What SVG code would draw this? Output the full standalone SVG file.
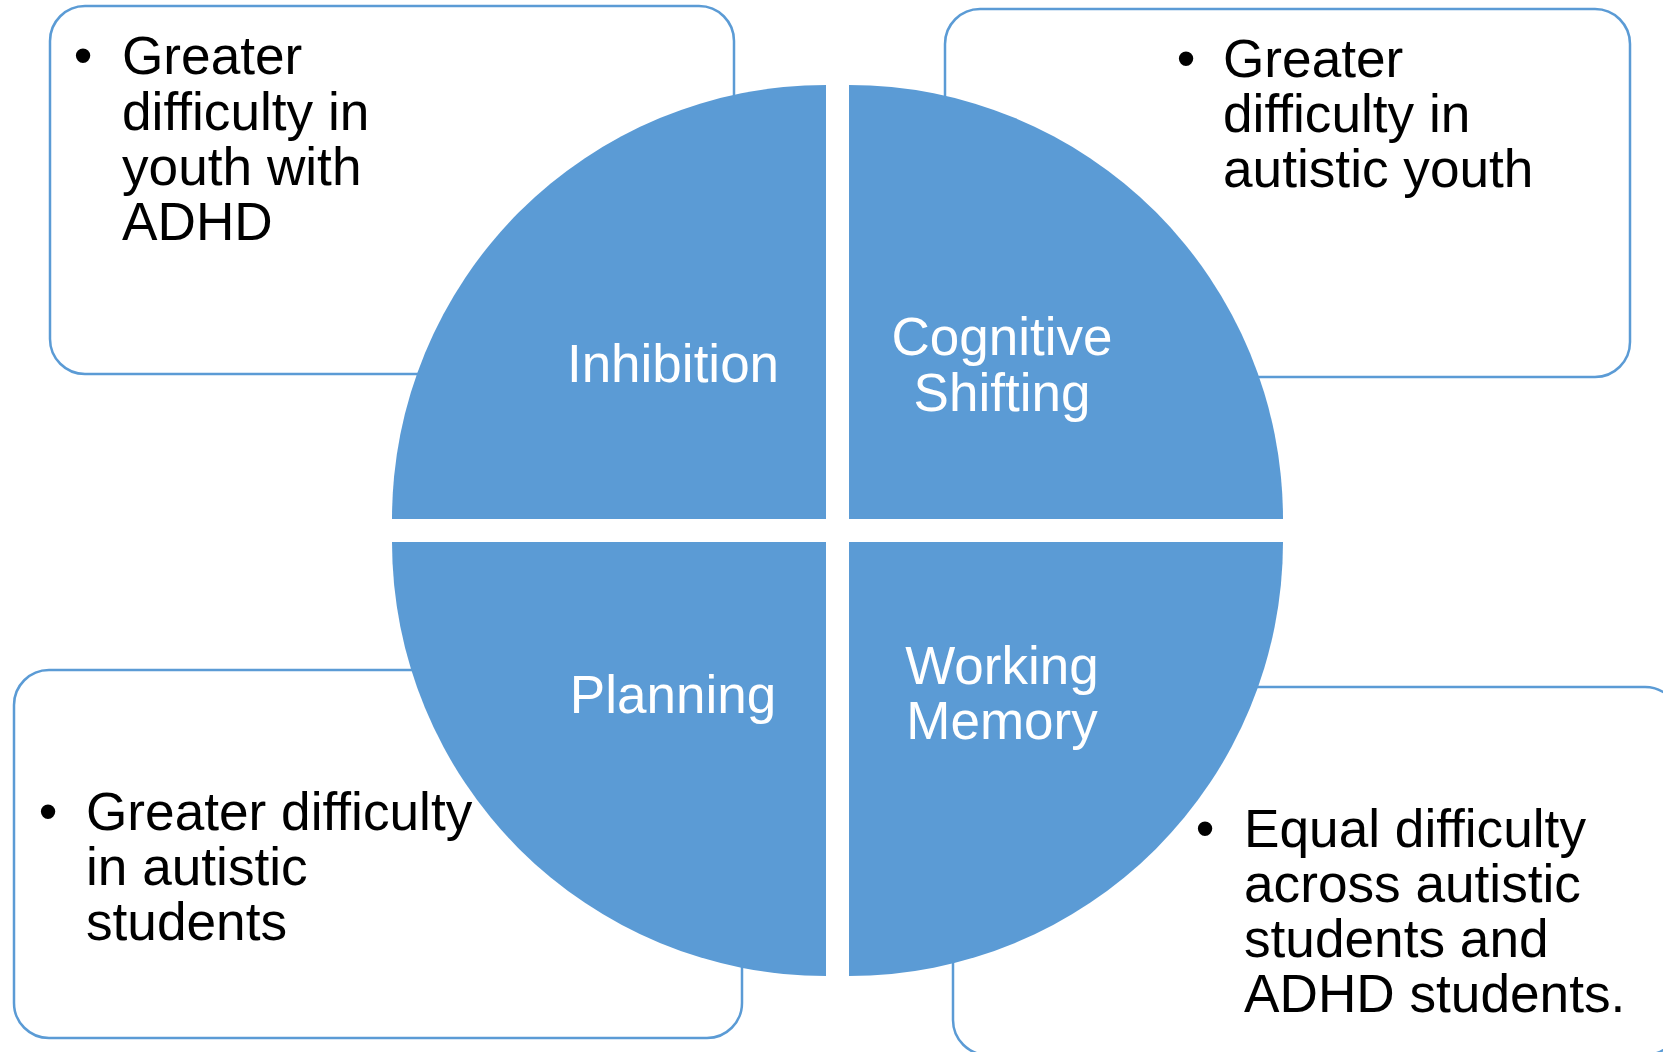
<svg xmlns="http://www.w3.org/2000/svg" width="1663" height="1052" viewBox="0 0 1663 1052">
<style>
.box{fill:#FFFFFF;stroke:#5B9BD5;stroke-width:2.5}
.quad{fill:#5B9BD5;stroke:none}
.t{font-family:"Liberation Sans",Arial,sans-serif;font-size:53.2px;fill:#000000}
.b{font-family:"Liberation Sans",Arial,sans-serif;font-size:53.2px;fill:#000000;text-anchor:middle}
.q{font-family:"Liberation Sans",Arial,sans-serif;font-size:53px;fill:#FFFFFF;text-anchor:middle}
</style>
<rect width="1663" height="1052" fill="#FFFFFF"/>
<g id="box-inhibition">
<rect class="box" x="50" y="6" width="684" height="368" rx="35" ry="35"/>
<text class="b" x="83" y="74">•</text>
<text class="t" x="122" y="74">Greater</text>
<text class="t" x="122" y="130">difficulty in</text>
<text class="t" x="122" y="185">youth with</text>
<text class="t" x="122" y="240">ADHD</text>
</g>
<g id="box-shifting">
<rect class="box" x="945" y="9" width="685" height="368" rx="35" ry="35"/>
<text class="b" x="1186" y="77">•</text>
<text class="t" x="1223" y="77">Greater</text>
<text class="t" x="1223" y="132">difficulty in</text>
<text class="t" x="1223" y="187">autistic youth</text>
</g>
<g id="box-planning">
<rect class="box" x="14" y="670" width="728" height="368" rx="35" ry="35"/>
<text class="b" x="48" y="830">•</text>
<text class="t" x="86" y="830">Greater difficulty</text>
<text class="t" x="86" y="885">in autistic</text>
<text class="t" x="86" y="940">students</text>
</g>
<g id="box-memory">
<rect class="box" x="953" y="687" width="727" height="368" rx="35" ry="35"/>
<text class="b" x="1205" y="847">•</text>
<text class="t" x="1244" y="847">Equal difficulty</text>
<text class="t" x="1244" y="902">across autistic</text>
<text class="t" x="1244" y="957">students and</text>
<text class="t" x="1244" y="1012">ADHD students.</text>
</g>
<g id="quad-inhibition">
<path class="quad" d="M826,519 L392,519 A434,434 0 0 1 826,85 Z"/>
<text class="q" x="673" y="382">Inhibition</text>
</g>
<g id="quad-shifting">
<path class="quad" d="M849,519 L849,85 A434,434 0 0 1 1283,519 Z"/>
<text class="q" x="1002" y="355">Cognitive</text>
<text class="q" x="1002" y="411">Shifting</text>
</g>
<g id="quad-planning">
<path class="quad" d="M826,542 L826,976 A434,434 0 0 1 392,542 Z"/>
<text class="q" x="673" y="713">Planning</text>
</g>
<g id="quad-memory">
<path class="quad" d="M849,542 L1283,542 A434,434 0 0 1 849,976 Z"/>
<text class="q" x="1002" y="684">Working</text>
<text class="q" x="1002" y="739">Memory</text>
</g>
<g id="connectors"></g>
</svg>
